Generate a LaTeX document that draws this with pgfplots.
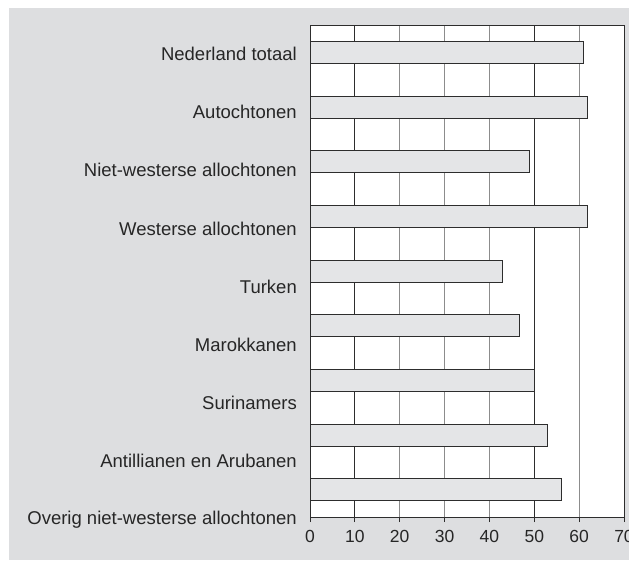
\documentclass[border=0pt]{standalone}
\usepackage{fontspec}
\setmainfont{Liberation Sans}
\usepackage{pgfplots}
\pgfplotsset{compat=1.18}
\definecolor{bggray}{RGB}{221,222,224}
\definecolor{barfill}{RGB}{228,229,231}
\definecolor{gridgray}{RGB}{140,140,140}
\definecolor{darkline}{RGB}{45,45,45}

\begin{document}
\begin{tikzpicture}
\clip (0,0) rectangle (629pt,560pt);
\fill[white] (0,0) rectangle (629pt,560pt);
\fill[bggray] (9pt,0) rectangle (629pt,552pt);
\begin{axis}[
  at={(310pt,43pt)}, anchor=south west,
  scale only axis, width=314pt, height=492pt,
  xmin=0, xmax=70, ymin=0.5, ymax=9.5, y dir=reverse,
  xtick={0,10,...,70}, ytick=\empty, xtick pos=left,
  tick align=outside, major tick length=5pt,
  xmajorgrids, grid style={gridgray, line width=0.9pt},
  extra x ticks={10,50}, extra x tick labels={},
  extra x tick style={grid style={darkline, line width=0.9pt}},
  axis line style={darkline, line width=0.9pt},
  tick style={darkline, line width=0.9pt},
  axis background/.style={fill=white},
  tick label style={font=\fontsize{17.5}{20}\selectfont, yshift=-5pt, text=black!85},
  /pgf/number format/assume math mode=true,
  clip=false,
  xbar, bar width=22pt,
]
\addplot[fill=barfill, draw=darkline, line width=0.9pt] coordinates {
  (61.0,1) (61.8,2) (49.0,3) (61.8,4) (42.9,5) (46.8,6) (50.0,7) (52.9,8) (56.0,9)};
\begin{scope}[every node/.style={anchor=east, xshift=-13pt, font=\fontsize{18.5}{22}\selectfont, text=black!85, inner sep=0pt}]
\node at (axis cs:0,1.03) {Nederland totaal};
\node at (axis cs:0,2.095) {Autochtonen};
\node at (axis cs:0,3.159) {Niet-westerse allochtonen};
\node at (axis cs:0,4.224) {Westerse allochtonen};
\node at (axis cs:0,5.288) {Turken};
\node at (axis cs:0,6.353) {Marokkanen};
\node at (axis cs:0,7.418) {Surinamers};
\node at (axis cs:0,8.482) {Antillianen en Arubanen};
\node at (axis cs:0,9.547) {Overig niet-westerse allochtonen};
\end{scope}
\end{axis}
\end{tikzpicture}
\end{document}
